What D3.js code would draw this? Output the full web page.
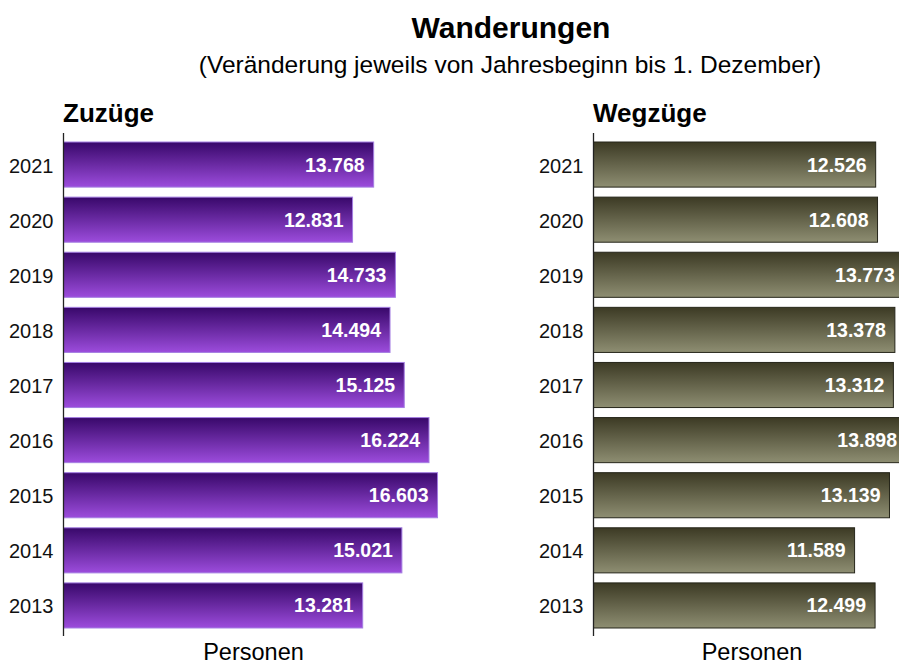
<!DOCTYPE html>
<html lang="de">
<head>
  <meta charset="utf-8" />
  <title>Wanderungen</title>
  <script src="https://cdn.jsdelivr.net/npm/d3@7"></script>
  <style>
    body { margin: 0; background: white; }
    svg text { font-family: "Liberation Sans", Arial, sans-serif; }
  </style>
</head>
<body>
<script>
// data
var years = ["2021", "2020", "2019", "2018", "2017", "2016", "2015", "2014", "2013"];
var zuzuege = [13768, 12831, 14733, 14494, 15125, 16224, 16603, 15021, 13281];
var wegzuege = [12526, 12608, 13773, 13378, 13312, 13898, 13139, 11589, 12499];

var w = 899, h = 664;
var fmt = d3.format(",d");
var de = function(v) { return fmt(v).replace(/,/g, "."); };

var svg = d3.select("body").append("svg")
  .attr("width", w)
  .attr("height", h);

var defs = svg.append("defs");
var g1 = defs.append("linearGradient").attr("id", "gradPurple")
  .attr("x1", 0).attr("y1", 0).attr("x2", 0).attr("y2", 1);
g1.append("stop").attr("offset", "0%").attr("stop-color", "#38086a");
g1.append("stop").attr("offset", "100%").attr("stop-color", "#9c4cdc");
var g2 = defs.append("linearGradient").attr("id", "gradOlive")
  .attr("x1", 0).attr("y1", 0).attr("x2", 0).attr("y2", 1);
g2.append("stop").attr("offset", "0%").attr("stop-color", "#3c3a24");
g2.append("stop").attr("offset", "100%").attr("stop-color", "#8e8e72");

svg.append("text")
  .attr("x", 511).attr("y", 38)
  .attr("text-anchor", "middle")
  .attr("font-size", 30).attr("font-weight", "bold")
  .text("Wanderungen");
svg.append("text")
  .attr("x", 510).attr("y", 73)
  .attr("text-anchor", "middle")
  .attr("font-size", 24.5)
  .text("(Veränderung jeweils von Jahresbeginn bis 1. Dezember)");

var yScale = d3.scaleBand()
  .domain(years)
  .range([142 - 5, 628 + 5])
  .paddingInner(10 / 55)
  .paddingOuter(0.5 * 10 / 55);

function panel(x0, title, values, fill, stroke, unitX) {
  var xScale = d3.scaleLinear()
    .domain([0, 18000])
    .range([x0, x0 + 405.5]);

  var g = svg.append("g");

  g.append("text")
    .attr("x", x0 - 0.5).attr("y", 122)
    .attr("font-size", 26).attr("font-weight", "bold")
    .text(title);

  g.selectAll("rect")
    .data(values)
    .enter()
    .append("rect")
    .attr("x", xScale(0))
    .attr("y", function(d, i) { return yScale(years[i]); })
    .attr("width", function(d) { return xScale(d) - xScale(0); })
    .attr("height", yScale.bandwidth())
    .attr("fill", fill)
    .attr("stroke", stroke)
    .attr("stroke-width", 1);

  g.selectAll("text.val")
    .data(values)
    .enter()
    .append("text")
    .attr("class", "val")
    .attr("x", function(d) { return Math.min(xScale(d), 906) - 9; })
    .attr("y", function(d, i) { return yScale(years[i]) + yScale.bandwidth() / 2 + 7; })
    .attr("text-anchor", "end")
    .attr("font-size", 19.5).attr("font-weight", "bold")
    .attr("fill", "white")
    .text(de);

  var axis = d3.axisLeft(yScale).tickSize(0).tickPadding(10);
  var ag = g.append("g")
    .attr("transform", "translate(" + x0 + ",0)")
    .call(axis);
  ag.select(".domain").remove();
  ag.selectAll("text")
    .attr("font-size", 20)
    .attr("font-family", "Liberation Sans, Arial, sans-serif")
    .attr("fill", "#111")
    .attr("dy", "0.4em");

  g.append("line")
    .attr("x1", x0).attr("x2", x0)
    .attr("y1", 133).attr("y2", 636)
    .attr("stroke", "#222").attr("stroke-width", 1.3);

  g.append("text")
    .attr("x", unitX).attr("y", 660)
    .attr("text-anchor", "middle")
    .attr("font-size", 23.5)
    .text("Personen");
}

panel(63.5, "Zuzüge", zuzuege, "url(#gradPurple)", "#a47ee2", 253.5);
panel(593.5, "Wegzüge", wegzuege, "url(#gradOlive)", "#26261a", 752);
</script>
</body>
</html>
